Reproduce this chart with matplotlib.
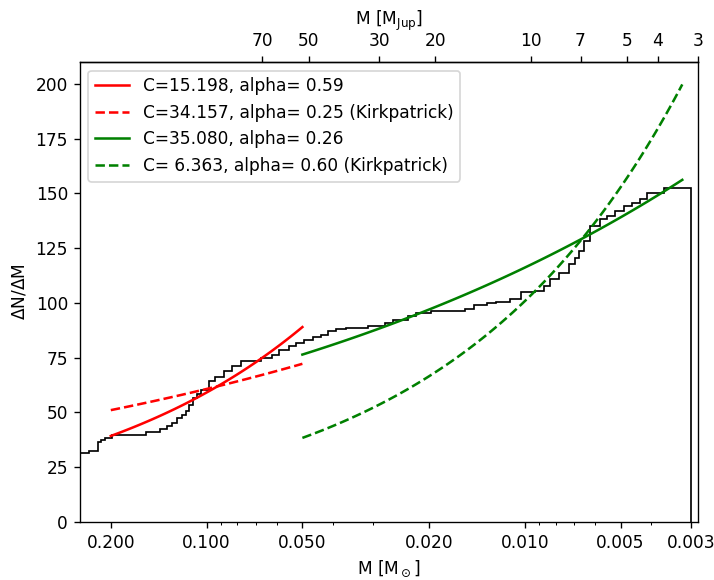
import numpy as np
import matplotlib
matplotlib.use("Agg")
import matplotlib.pyplot as plt
from matplotlib.ticker import FixedLocator, FormatStrFormatter, NullLocator, NullFormatter, LogLocator

# step histogram: left edge of each step (M_sun) and its height
edges = [0.26, 0.2343, 0.2196, 0.2149, 0.2088, 0.1986, 0.1555, 0.1396, 0.1327, 0.1280,
         0.1235, 0.1192, 0.1158, 0.1133, 0.1101, 0.1070, 0.1039, 0.0981, 0.0939, 0.0881,
         0.0831, 0.0779, 0.0675, 0.0623, 0.0593, 0.0552, 0.0525, 0.0495, 0.0464, 0.0438,
         0.0414, 0.0391, 0.0366, 0.0310, 0.0275, 0.0259, 0.0233, 0.0220, 0.0197, 0.0154,
         0.0144, 0.0131, 0.0123, 0.0111, 0.0103, 0.00926, 0.00868, 0.00832, 0.00779, 0.00725,
         0.00694, 0.00675, 0.00651, 0.00623, 0.00580, 0.00552, 0.00521, 0.00488, 0.00461, 0.00435,
         0.00414, 0.00366, 0.003]
heights = [31.7, 32.6, 36.5, 37.5, 38.3, 39.8, 40.9, 42.5, 43.8, 45.2,
           47.3, 49.0, 50.5, 53.5, 56.5, 58.5, 60.4, 64.5, 66.0, 68.8,
           71.1, 73.4, 74.9, 76.4, 78.5, 80.2, 81.8, 83.3, 84.5, 85.6,
           87.1, 87.9, 88.6, 89.7, 90.9, 92.4, 94.0, 95.2, 96.2, 97.3,
           98.9, 99.8, 100.5, 101.6, 104.8, 105.4, 107.6, 110.8, 113.8, 117.6,
           120.7, 123.7, 128.3, 135.2, 138.2, 139.7, 142.0, 144.3, 145.8, 147.4,
           150.4, 152.7]

# power-law fits dN/dM = C * M^-alpha (values from the legend)
fit_C = [15.198, 34.157, 35.080, 6.363]
fit_alpha = [0.59, 0.25, 0.26, 0.60]
fit_range = [(0.2, 0.05), (0.2, 0.05), (0.05, 0.0032), (0.05, 0.0032)]
fit_labels = ["C=15.198, alpha= 0.59",
              "C=34.157, alpha= 0.25 (Kirkpatrick)",
              "C=35.080, alpha= 0.26",
              "C= 6.363, alpha= 0.60 (Kirkpatrick)"]
fit_colors = ["red", "red", "green", "green"]
fit_styles = ["-", "--", "-", "--"]

xticks = [0.2, 0.1, 0.05, 0.02, 0.01, 0.005, 0.003]
jup_ticks = [70, 50, 30, 20, 10, 7, 5, 4, 3]
MSUN_MJUP = 1047.6

DPI = 122
fig = plt.figure(figsize=(714 / DPI, 580 / DPI), dpi=DPI)
ax = fig.add_axes([0.112, 0.1, 0.866, 0.793])

ax.stairs(heights[::-1], edges[::-1], baseline=0, color="k", lw=1.0)

for C, a, (m0, m1), lab, c, ls in zip(fit_C, fit_alpha, fit_range, fit_labels, fit_colors, fit_styles):
    m = np.logspace(np.log10(m0), np.log10(m1), 100)
    ax.plot(m, C * m**(-a), color=c, ls=ls, lw=1.5, label=lab)

ax.set_xscale("log")
ax.set_xlim(0.25, 0.00285)
ax.set_ylim(0, 210)
ax.xaxis.set_major_locator(FixedLocator(xticks))
ax.xaxis.set_major_formatter(FormatStrFormatter("%.3f"))
ax.xaxis.set_minor_locator(LogLocator(subs=np.arange(2, 10)))
ax.xaxis.set_minor_formatter(NullFormatter())
ax.set_yticks(np.arange(0, 201, 25))
ax.set_xlabel(r"M [M$_\odot$]")
ax.set_ylabel(r"$\Delta$N/$\Delta$M")
ax.legend(loc="upper left")

top = ax.secondary_xaxis("top", functions=(lambda m: m * MSUN_MJUP, lambda j: j / MSUN_MJUP))
top.xaxis.set_major_locator(FixedLocator(jup_ticks))
top.xaxis.set_major_formatter(FormatStrFormatter("%d"))
top.xaxis.set_minor_locator(NullLocator())
top.set_xlabel(r"M [M$_{\rm Jup}$]")

fig.savefig("out.png", dpi=DPI)
